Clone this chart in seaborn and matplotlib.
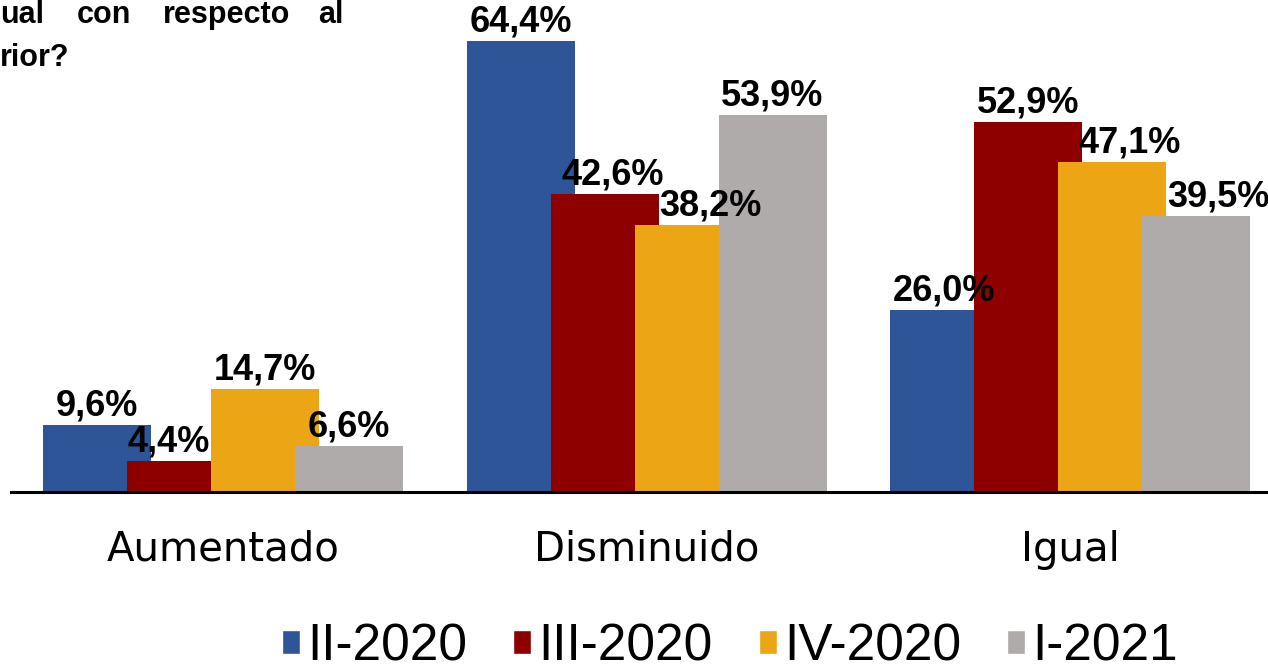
import numpy as np
import pandas as pd
import matplotlib
matplotlib.use('Agg')
import matplotlib.pyplot as plt
import seaborn as sns

# ─────────────────────────────────────────────────────────────
# datos
# ─────────────────────────────────────────────────────────────
categorias = ['Aumentado', 'Disminuido', 'Igual']
periodos = ['II-2020', 'III-2020', 'IV-2020', 'I-2021']
ii_2020 = [9.6, 64.4, 26.0]
iii_2020 = [4.4, 42.6, 52.9]
iv_2020 = [14.7, 38.2, 47.1]
i_2021 = [6.6, 53.9, 39.5]

colores = ['#2E5597', '#8E0000', '#EBA515', '#AFABAB']
# pequeños desplazamientos horizontales de las etiquetas (px), por periodo
nudge_px = [[0, 0, 0], [-12, 8, 0], [0, 22, 18], [0, 0, 22]]

W, H, DPI = 1268, 669, 100

df = pd.DataFrame({
    'respuesta': categorias * 4,
    'periodo': np.repeat(periodos, 3),
    'pct': ii_2020 + iii_2020 + iv_2020 + i_2021,
})

sns.set_theme(style='white')
plt.rcParams['font.family'] = ['DejaVu Sans']
plt.rcParams['text.color'] = 'black'

fig = plt.figure(figsize=(W / DPI, H / DPI), dpi=DPI)
# eje: borde izq. en x=11 px, línea base en y=492 px
ax = fig.add_axes([11 / W, (H - 492) / H, 1 - 11 / W, 492 / H])

step = 84 / 423.5      # separación entre barras del grupo
bar_w = 108 / 423.5    # ancho real de cada barra (se superponen)

sns.barplot(data=df, x='respuesta', y='pct', hue='periodo', order=categorias,
            hue_order=periodos, palette=colores, width=step * 4,
            saturation=1, legend=True, ax=ax)

for cont in ax.containers:
    for bar in cont:
        cx = bar.get_x() + bar.get_width() / 2
        bar.set_x(cx - bar_w / 2)
        bar.set_width(bar_w)
        bar.set_edgecolor('none')

# etiquetas de valor
for i, cont in enumerate(ax.containers):
    for j, bar in enumerate(cont):
        v = bar.get_height()
        cx = bar.get_x() + bar.get_width() / 2
        ax.annotate(f'{v:.1f}%'.replace('.', ','), (cx, v),
                    xytext=(nudge_px[i][j] * 0.72, 1), textcoords='offset points',
                    ha='center', va='bottom', fontsize=26, fontweight='bold',
                    family=['Liberation Sans', 'DejaVu Sans'], color='black',
                    annotation_clip=False)

ax.set_xlim((11 - 223) / 423.5, (1268 - 223) / 423.5)
ax.set_ylim(0, 492 / 7.0)
ax.set_xlabel('')
ax.set_ylabel('')
ax.set_yticks([])
for s in ['top', 'right', 'left']:
    ax.spines[s].set_visible(False)
ax.spines['bottom'].set_color('black')
ax.spines['bottom'].set_linewidth(2.2)
ax.tick_params(axis='x', length=0, pad=27, labelsize=29, labelcolor='black')
ax.patch.set_alpha(0)

# leyenda
handles, labels = ax.get_legend_handles_labels()
ax.legend_.remove()
fig.legend(handles, labels, loc='center', bbox_to_anchor=(730 / W, 1 - 647 / H),
           ncol=4, frameon=False, handlelength=0.35, handleheight=0.35,
           handletextpad=0.14, columnspacing=0.9, labelcolor='black',
           prop={'family': ['Liberation Sans', 'DejaVu Sans'], 'size': 37})

# título recortado (parte visible)
tkw = dict(fontsize=22, fontweight='bold', family=['Liberation Sans', 'DejaVu Sans'],
           ha='left', va='baseline', color='black')
for palabra, x in [('ual', 0), ('con', 77), ('respecto', 163), ('al', 318)]:
    fig.text(x / W, 1 - 23 / H, palabra, **tkw)
fig.text(0, 1 - 66 / H, 'rior?', **tkw)

fig.savefig('out.png', dpi=DPI, facecolor='white')
